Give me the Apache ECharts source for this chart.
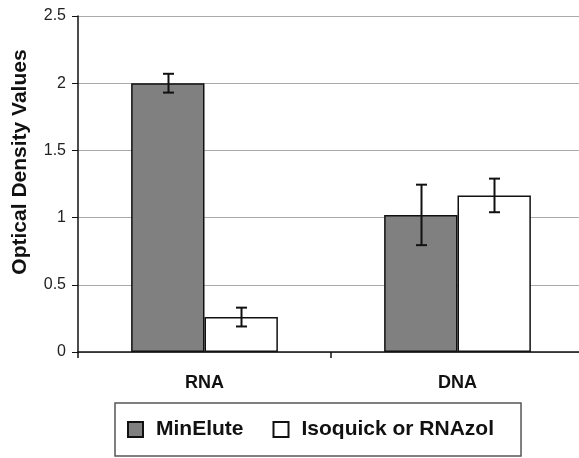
<!DOCTYPE html>
<html><head><meta charset="utf-8">
<script src="https://cdn.jsdelivr.net/npm/echarts@6/dist/echarts.min.js"></script>
<style>html,body{margin:0;padding:0;background:#fff}#c{width:579px;height:458px}</style>
</head><body><div id="c"></div>
<script>
const categories = ['RNA', 'DNA'];
const seriesNames = ['MinElute', 'Isoquick or RNAzol'];
const minEluteValues = [2.0, 1.02];
const minEluteErrors = [0.07, 0.225];
const isoquickValues = [0.26, 1.165];
const isoquickErrors = [0.07, 0.125];
const yTicks = [0, 0.5, 1, 1.5, 2, 2.5];
const yTitle = 'Optical Density Values';

const FONT = 'Liberation Sans, Arial, sans-serif';
const chart = echarts.init(document.getElementById('c'), null, {renderer: 'canvas'});

const catGap = 0.42;
function errorSeries(values, errors, sign) {
  return {
    type: 'custom',
    silent: true,
    z: 10,
    data: values.map((v, i) => [i, v, errors[i]]),
    renderItem: function (params, api) {
      const i = api.value(0), v = api.value(1), e = api.value(2);
      const band = api.size([1, 0])[0];
      const off = sign * band * (1 - catGap) / 4;
      const top = api.coord([i, v + e]);
      const bot = api.coord([i, v - e]);
      const x = Math.round(top[0] + off) + 0.5;
      const cw = 5.5;
      const st = {stroke: '#111', lineWidth: 2};
      return {type: 'group', children: [
        {type: 'line', shape: {x1: x, y1: top[1], x2: x, y2: bot[1]}, style: st},
        {type: 'line', shape: {x1: x - cw, y1: top[1], x2: x + cw, y2: top[1]}, style: st},
        {type: 'line', shape: {x1: x - cw, y1: bot[1], x2: x + cw, y2: bot[1]}, style: st}
      ]};
    }
  };
}

chart.setOption({
  animation: false,
  backgroundColor: '#fff',
  grid: {left: 78, right: -5, top: 16, bottom: 106, containLabel: false, outerBoundsMode: 'none'},
  graphic: [{
    type: 'text', x: 20, y: 162, rotation: Math.PI / 2,
    style: {text: yTitle, font: 'bold 21px ' + FONT, fill: '#111', align: 'center', verticalAlign: 'middle'}
  }],
  legend: {
    data: seriesNames,
    left: 115, top: 403,
    padding: [16, 27, 16, 12],
    borderColor: '#555', borderWidth: 1.5,
    icon: 'rect',
    itemWidth: 15, itemHeight: 15, itemGap: 29,
    textStyle: {fontFamily: FONT, fontWeight: 'bold', fontSize: 21, color: '#111', padding: [0, 0, 0, 8]}
  },
  xAxis: {
    type: 'category', data: categories,
    axisLine: {lineStyle: {color: '#111', width: 1.5}},
    axisTick: {show: true, alignWithLabel: false, length: 6, lineStyle: {color: '#111', width: 1.5}},
    axisLabel: {fontFamily: FONT, fontWeight: 'bold', fontSize: 18, color: '#111', margin: 22}
  },
  yAxis: {
    type: 'value', min: 0, max: 2.5, interval: 0.5,
    axisLine: {show: true, lineStyle: {color: '#111', width: 1.5}},
    axisTick: {show: true, length: 6, lineStyle: {color: '#111', width: 1}},
    axisLabel: {fontFamily: FONT, fontSize: 16, color: '#222', margin: 12,
      formatter: v => yTicks.includes(v) ? String(v) : ''},
    splitLine: {show: true, lineStyle: {color: '#aaa', width: 1.2}}
  },
  series: [
    {name: seriesNames[0], type: 'bar', data: minEluteValues, barGap: '0%', barCategoryGap: '42%',
     itemStyle: {color: '#808080', borderColor: '#111', borderWidth: 1.5}},
    {name: seriesNames[1], type: 'bar', data: isoquickValues, barGap: '0%', barCategoryGap: '42%',
     itemStyle: {color: '#ffffff', borderColor: '#111', borderWidth: 1.5}},
    errorSeries(minEluteValues, minEluteErrors, -1),
    errorSeries(isoquickValues, isoquickErrors, 1)
  ]
});
</script></body></html>
